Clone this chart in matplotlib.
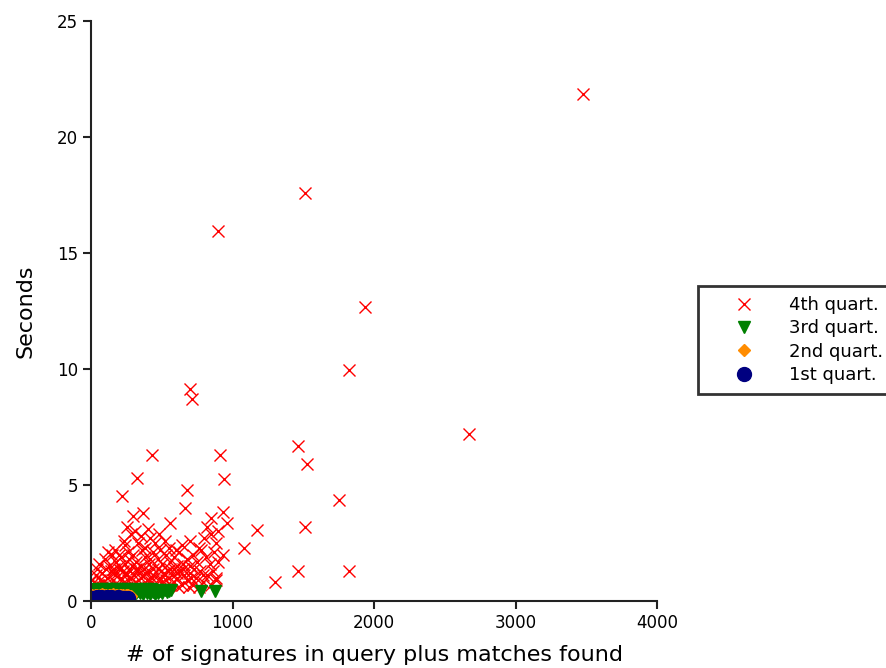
import matplotlib
matplotlib.use("Agg")
import matplotlib.pyplot as plt

# 4th quartile (red x)
q4_x = [3477, 1512, 897, 1936, 1823, 700, 714, 2671, 1463, 912, 431, 1526, 940, 327,
        1750, 217, 676, 667, 930, 299, 365, 846, 959, 558, 1171, 1512, 252, 1084, 931,
        1300, 1465, 1826, 883,
        280, 310, 350, 400, 420, 450, 480, 520, 600, 640, 700, 760, 800, 850, 880, 240,
        260, 200, 230, 380, 330, 900, 820, 170,
        60, 100, 130, 150, 180, 210, 240, 270, 300, 320, 350, 380, 410, 440, 470, 500,
        530, 560, 590, 620, 650, 680, 720, 750, 780, 810, 840, 870, 610, 550, 490, 420,
        360, 290, 195, 120, 700, 900,
        20, 35, 50, 65, 80, 95, 110, 125, 140, 155, 170, 185, 200, 215, 230, 245, 260,
        275, 290, 305, 320, 335, 350, 365, 380, 395, 410, 425, 440, 455, 470, 485, 500,
        515, 530, 545, 560, 575, 590, 605, 620, 640, 660, 680, 700, 720, 745, 770, 795,
        820, 850, 880, 45, 75, 105, 135, 165, 195, 225, 255, 285, 315, 345, 375, 405,
        435, 465, 495, 525, 555, 585, 615, 650, 690, 730, 760, 30, 10, 160, 250, 340,
        430, 520, 610, 710, 790, 860]
q4_y = [21.85, 17.6, 15.95, 12.67, 9.96, 9.14, 8.7, 7.2, 6.68, 6.29, 6.29, 5.9, 5.26, 5.3,
        4.35, 4.53, 4.78, 4.0, 3.85, 3.66, 3.78, 3.59, 3.35, 3.35, 3.06, 3.2, 3.2, 2.27, 1.98,
        0.8, 1.3, 1.29, 0.9,
        2.9, 3.0, 2.8, 3.1, 2.7, 2.5, 2.9, 2.6, 2.2, 2.4, 2.6, 2.3, 2.7, 2.9, 2.5, 2.4,
        2.1, 2.0, 2.6, 2.3, 2.5, 3.0, 3.2, 2.2,
        1.6, 1.8, 1.5, 2.0, 1.7, 1.9, 1.6, 1.8, 2.0, 1.7, 1.5, 1.9, 1.6, 2.1, 1.8, 1.6,
        2.0, 1.7, 1.9, 2.1, 1.6, 1.8, 2.0, 1.7, 2.2, 1.9, 1.6, 2.1, 1.5, 2.3, 2.2, 1.8,
        2.2, 1.5, 1.5, 2.1, 1.5, 1.7,
        0.8, 1.1, 0.7, 0.9, 1.2, 0.8, 1.0, 0.7, 1.3, 0.9, 1.1, 0.7, 1.4, 1.0, 0.8, 1.2, 0.9,
        1.3, 0.7, 1.1, 0.8, 1.4, 1.0, 0.7, 1.2, 0.9, 1.3, 0.8, 1.1, 0.7, 1.4, 1.0, 0.8,
        1.2, 0.9, 1.3, 0.7, 1.1, 0.8, 1.0, 1.3, 0.7, 1.1, 0.9, 1.2, 0.7, 1.0, 1.3, 0.8,
        1.1, 0.7, 1.0, 1.4, 0.6, 1.4, 0.6, 1.4, 0.6, 1.3, 0.6, 1.0, 1.4, 0.6, 1.4, 0.6,
        1.4, 0.6, 1.3, 0.6, 1.4, 1.4, 0.6, 1.4, 0.6, 1.4, 0.6, 0.6, 0.9, 1.2, 1.1, 1.2,
        1.0, 1.1, 1.2, 1.0, 1.1, 1.3]

# 3rd quartile (green triangles)
q3_x = [5, 15, 25, 35, 45, 55, 65, 75, 85, 95, 105, 115, 125, 135, 145, 155, 165, 175,
        185, 195, 205, 215, 225, 235, 245, 255, 265, 275, 285, 295, 305, 315, 325, 335,
        345, 355, 365, 375, 385, 395, 405, 415, 425, 435, 445, 455, 465, 475, 490, 505,
        520, 535, 550, 565, 777, 876]
q3_y = [0.45, 0.35, 0.5, 0.4, 0.3, 0.48, 0.38, 0.52, 0.33, 0.45, 0.4, 0.5, 0.35, 0.47,
        0.32, 0.5, 0.42, 0.36, 0.53, 0.4, 0.3, 0.46, 0.38, 0.5, 0.34, 0.44, 0.52, 0.37,
        0.3, 0.47, 0.4, 0.33, 0.5, 0.43, 0.36, 0.48, 0.3, 0.42, 0.5, 0.35, 0.45, 0.32,
        0.5, 0.38, 0.44, 0.3, 0.48, 0.36, 0.42, 0.33, 0.46, 0.38, 0.42, 0.48, 0.42, 0.42]

# 2nd quartile (orange diamonds)
q2_x = [5, 15, 25, 35, 45, 55, 65, 75, 85, 95, 105, 115, 125, 135, 145, 155, 165, 175,
        185, 195, 205, 215, 225, 235, 245, 255, 265, 275, 285]
q2_y = [0.25, 0.22, 0.28, 0.24, 0.27, 0.22, 0.26, 0.29, 0.23, 0.27, 0.25, 0.22, 0.28,
        0.24, 0.26, 0.3, 0.23, 0.27, 0.25, 0.22, 0.28, 0.24, 0.26, 0.22, 0.27, 0.24,
        0.25, 0.22, 0.2]

# 1st quartile (navy circles)
q1_x = [2, 8, 14, 20, 26, 32, 38, 44, 50, 56, 62, 68, 74, 80, 86, 92, 98, 104, 110, 116,
        122, 128, 134, 140, 146, 152, 158, 164, 170, 176, 182, 188, 194, 200, 206, 212,
        218, 224, 232, 240, 250, 262]
q1_y = [0.12, 0.08, 0.15, 0.1, 0.06, 0.14, 0.11, 0.17, 0.08, 0.13, 0.1, 0.16, 0.07,
        0.12, 0.15, 0.09, 0.13, 0.11, 0.17, 0.08, 0.14, 0.1, 0.12, 0.16, 0.09, 0.13,
        0.11, 0.15, 0.08, 0.12, 0.14, 0.1, 0.16, 0.09, 0.13, 0.11, 0.15, 0.1, 0.12,
        0.14, 0.1, 0.12]

x_ticks = [0, 1000, 2000, 3000, 4000]
y_ticks = [0, 5, 10, 15, 20, 25]

fig = plt.figure(figsize=(8.86, 6.68), dpi=100)
ax = fig.add_axes([91 / 886, 67 / 668, 566 / 886, 580 / 668])

ax.plot(q4_x, q4_y, linestyle="none", marker="x", color="red", markersize=9,
        markeredgewidth=1.0, label="4th quart.")
ax.plot(q3_x, q3_y, linestyle="none", marker="v", color="green", markersize=9,
        label="3rd quart.")
ax.plot(q2_x, q2_y, linestyle="none", marker="D", color="darkorange", markersize=6,
        label="2nd quart.")
ax.plot(q1_x, q1_y, linestyle="none", marker="o", color="navy", markersize=10,
        label="1st quart.")

ax.set_xlim(0, 4000)
ax.set_ylim(0, 25)
ax.set_xticks(x_ticks)
ax.set_yticks(y_ticks)
for s in ["top", "right"]:
    ax.spines[s].set_visible(False)
for s in ["left", "bottom"]:
    ax.spines[s].set_color("#222222")
    ax.spines[s].set_linewidth(1.5)
ax.tick_params(axis="both", direction="out", length=6, width=1.5, color="#222222",
               labelsize=12)
ax.set_xlabel("# of signatures in query plus matches found", fontsize=16, labelpad=9)
ax.set_ylabel("Seconds", fontsize=16, labelpad=15)

leg = fig.legend(loc="upper left", bbox_to_anchor=(698 / 886, 1 - 286 / 668),
                 fontsize=13, frameon=True, fancybox=False, numpoints=1,
                 handlelength=4.0, handletextpad=0.5, borderpad=0.55,
                 labelspacing=0.3, borderaxespad=0)
leg.get_frame().set_edgecolor("black")
leg.get_frame().set_linewidth(2)

fig.savefig("out.png", dpi=100)
